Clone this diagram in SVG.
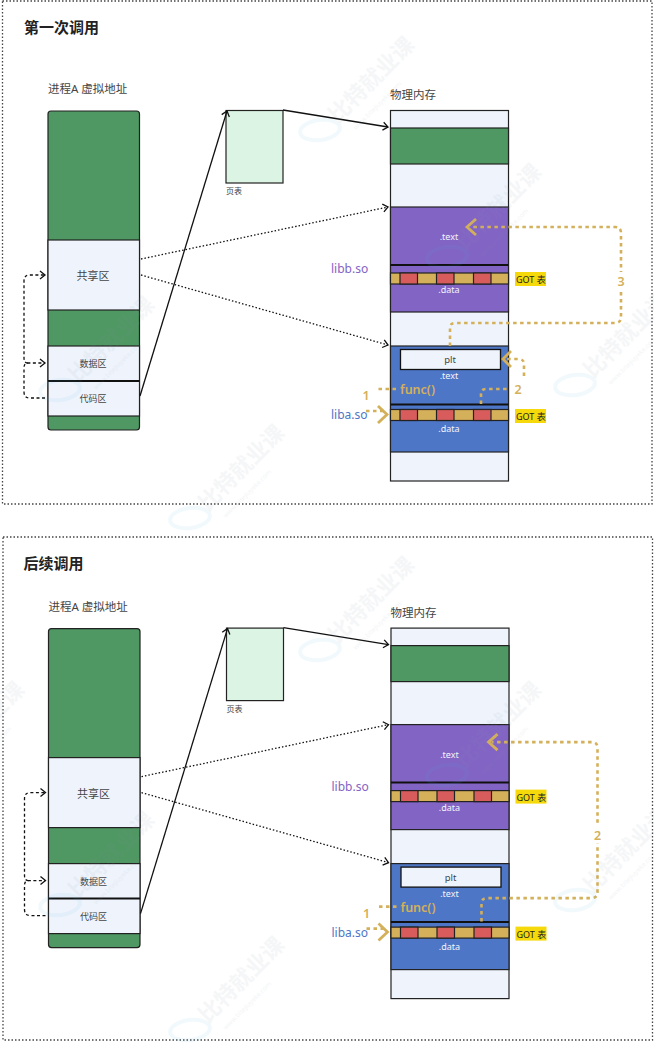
<svg xmlns="http://www.w3.org/2000/svg" xmlns:xlink="http://www.w3.org/1999/xlink" width="654" height="1043" viewBox="0 0 654 1043">
<style>
text{font-family:"Noto Sans","Noto Sans CJK SC",sans-serif;fill:#444}
.frame{fill:none;stroke:#444;stroke-width:1.3;stroke-dasharray:1.5 2}
.title{font-size:15px;font-weight:700;fill:#222}
.cap{font-size:11.5px}
.s{stroke:#222;stroke-width:1.2}
.green{fill:#4f9763}.light{fill:#eff4fc}.purple{fill:#8264c5}.blue{fill:#4e76c6}.gold{fill:#d4b05a}.red{fill:#d85c5c}
.mid{text-anchor:middle}
.w{fill:#f4f4fb;font-size:9px;text-anchor:middle}
.conn{fill:none;stroke:#111;stroke-width:1.3}
.dot{stroke-dasharray:1.5 2}
.dash{stroke-dasharray:3 2.5}
.g{fill:none;stroke:#d4b05a;stroke-width:2.6;stroke-dasharray:3.5 3.5}
.gh{fill:none;stroke:#d4b05a;stroke-width:2.8}
.gt{fill:#d4b05a;font-size:12.5px;text-anchor:middle;font-weight:600}
.got{font-size:9px;fill:#222}
.bar{stroke:#111;stroke-width:2;fill:none}
.wm{fill:#8a9aa8;font-size:22px;font-weight:700;opacity:.08}
.wu{fill:#8a9aa8;font-size:6.5px;opacity:.1}
.we{fill:none;stroke:#4fb4e6;stroke-width:4;opacity:.08}
</style>
<defs>
<marker id="arrow" markerWidth="9" markerHeight="10" refX="7.500" refY="5" orient="auto" markerUnits="userSpaceOnUse"><path d="M2.500 1L7.500 5L2.500 9" fill="none" stroke="#111" stroke-width="1.3"/></marker>
<g id="gotrow">
<rect class="s" x="0" y="0" width="118" height="11" fill="#d4b05a"/>
<rect class="red s" x="9.5" y="0" width="17.5" height="11"/>
<rect class="red s" x="46" y="0" width="17.5" height="11"/>
<rect class="red s" x="83" y="0" width="17.5" height="11"/>
</g>
<g id="wmark">
<ellipse class="we" cx="0" cy="0" rx="20" ry="10" transform="rotate(-8)"/>
<text class="wm" transform="translate(18,-6) rotate(-45)">比特就业课</text>
<text class="wu" transform="translate(36,0) rotate(-45)">www.bitejiuyeke.com</text>
</g>
</defs>

<rect class="frame" x="2.5" y="1" width="649.5" height="503"/>
<rect class="frame" x="3" y="537" width="649.5" height="503"/>

<g id="panel-1">
<text class="title" x="24" y="33">第一次调用</text>
<g id="virt-1">
<text class="cap" x="48" y="93">进程A 虚拟地址</text>
<rect class="green s" x="48" y="111" width="91.5" height="319" rx="3"/>
<rect class="light s" x="48" y="240" width="91.5" height="70"/>
<rect class="light s" x="48" y="346" width="91.5" height="70"/>
<path d="M48 381H139.5" class="bar"/>
<text class="mid" x="93" y="280" font-size="11">共享区</text>
<text class="mid" x="93" y="367" font-size="9">数据区</text>
<text class="mid" x="93" y="402" font-size="9">代码区</text>
</g>
<g id="pagetable-1">
<rect x="226" y="110.5" width="57" height="72.5" fill="#dcf4e4" stroke="#222" stroke-width="1.2"/>
<text x="226" y="194" font-size="8">页表</text>
</g>
<g id="phys-1">
<text class="cap" x="390" y="99" font-size="11">物理内存</text>
<rect class="light s" x="390.5" y="110.5" width="118" height="370.5"/>
<rect class="green s" x="390.5" y="128" width="118" height="36"/>
<rect class="purple s" x="390.5" y="207" width="118" height="105"/>
<rect class="blue s" x="390.5" y="346" width="118" height="106"/>
<path class="bar" d="M390.5 265H508.5M390.5 404.5H508.5"/>
<use href="#gotrow" x="390.5" y="273"/>
<use href="#gotrow" x="390.5" y="409.5"/>
<rect class="light" x="400.5" y="349.5" width="100" height="20" stroke="#111" stroke-width="1.3"/>
<text class="mid" x="450" y="363" font-size="9.5">plt</text>
<text class="w" x="449" y="240">.text</text>
<text class="w" x="449" y="293">.data</text>
<text class="w" x="449" y="379">.text</text>
<text class="w" x="449" y="432">.data</text>
<text x="331" y="273" font-size="12" style="fill:#8264c5">libb.so</text>
<text x="331" y="419" font-size="12" style="fill:#4e76c6">liba.so</text>
<rect x="515" y="272" width="31" height="14" fill="#f5d90a"/>
<rect x="515" y="409" width="31" height="14" fill="#f5d90a"/>
<text class="got" x="516" y="283">GOT 表</text>
<text class="got" x="516" y="420">GOT 表</text>
<text x="400" y="394" font-size="12.5" font-weight="600" style="fill:#d4b05a">func()</text>
</g>
<g id="connectors-1">
<path class="conn dash" d="M45 398H30Q24 398 24 392V368Q24 363 28 363H45" marker-end="url(#arrow)"/>
<path class="conn dash" d="M28 363Q24 363 24 358V281Q24 275 30 275H45" marker-end="url(#arrow)"/>
<path class="conn dot" d="M141 259L388 207" marker-end="url(#arrow)"/>
<path class="conn dot" d="M141 275L388 345" marker-end="url(#arrow)"/>
<path class="conn" d="M140 396L227 111" marker-end="url(#arrow)"/>
<path class="conn" d="M283 110L388 127" marker-end="url(#arrow)"/>
<path class="g" d="M450 346V328Q450 323 455 323H615Q621 323 621 317V233Q621 227 615 227H470"/>
<path class="gh" d="M476 219L467 227L476 235"/>
<path class="g" d="M481 404V394Q481 389 486 389H508"/>
<path class="g" d="M524 376V364Q524 359 518 359H506"/>
<path class="gh" d="M511 351L503 359L511 367"/>
<path class="g" d="M396 389H377"/>
<path class="g" d="M366 411H384"/>
<path class="gh" d="M378 406L387 414.500L378 423"/>
<rect x="615" y="272" width="12" height="18" fill="#fff"/>
<text class="gt" x="621" y="286">3</text>
<text class="gt" x="518" y="394">2</text>
<text class="gt" x="366" y="400">1</text>
</g>
</g>

<g id="panel-2" transform="translate(0.5,517.6)">
<text class="title" x="23" y="51">后续调用</text>
<g id="virt-2">
<text class="cap" x="48" y="93">进程A 虚拟地址</text>
<rect class="green s" x="48" y="111" width="91.5" height="319" rx="3"/>
<rect class="light s" x="48" y="240" width="91.5" height="70"/>
<rect class="light s" x="48" y="346" width="91.5" height="70"/>
<path d="M48 381H139.5" class="bar"/>
<text class="mid" x="93" y="280" font-size="11">共享区</text>
<text class="mid" x="93" y="367" font-size="9">数据区</text>
<text class="mid" x="93" y="402" font-size="9">代码区</text>
</g>
<g id="pagetable-2">
<rect x="226" y="110.5" width="57" height="72.5" fill="#dcf4e4" stroke="#222" stroke-width="1.2"/>
<text x="226" y="194" font-size="8">页表</text>
</g>
<g id="phys-2">
<text class="cap" x="390" y="99" font-size="11">物理内存</text>
<rect class="light s" x="390.5" y="110.5" width="118" height="370.5"/>
<rect class="green s" x="390.5" y="128" width="118" height="36"/>
<rect class="purple s" x="390.5" y="207" width="118" height="105"/>
<rect class="blue s" x="390.5" y="346" width="118" height="106"/>
<path class="bar" d="M390.5 265H508.5M390.5 404.5H508.5"/>
<use href="#gotrow" x="390.5" y="273"/>
<use href="#gotrow" x="390.5" y="409.5"/>
<rect class="light" x="400.5" y="349.5" width="100" height="20" stroke="#111" stroke-width="1.3"/>
<text class="mid" x="450" y="363" font-size="9.5">plt</text>
<text class="w" x="449" y="240">.text</text>
<text class="w" x="449" y="293">.data</text>
<text class="w" x="449" y="379">.text</text>
<text class="w" x="449" y="432">.data</text>
<text x="331" y="273" font-size="12" style="fill:#8264c5">libb.so</text>
<text x="331" y="419" font-size="12" style="fill:#4e76c6">liba.so</text>
<rect x="515" y="272" width="31" height="14" fill="#f5d90a"/>
<rect x="515" y="409" width="31" height="14" fill="#f5d90a"/>
<text class="got" x="516" y="283">GOT 表</text>
<text class="got" x="516" y="420">GOT 表</text>
<text x="400" y="394" font-size="12.5" font-weight="600" style="fill:#d4b05a">func()</text>
</g>
<g id="connectors-2">
<path class="conn dash" d="M45 398H30Q24 398 24 392V368Q24 363 28 363H45" marker-end="url(#arrow)"/>
<path class="conn dash" d="M28 363Q24 363 24 358V281Q24 275 30 275H45" marker-end="url(#arrow)"/>
<path class="conn dot" d="M141 259L388 207" marker-end="url(#arrow)"/>
<path class="conn dot" d="M141 275L388 345" marker-end="url(#arrow)"/>
<path class="conn" d="M140 396L227 111" marker-end="url(#arrow)"/>
<path class="conn" d="M283 110L388 127" marker-end="url(#arrow)"/>
<path class="g" d="M481 404V386Q481 380.500 487 380.500H591Q597 380.500 597 374.500V230.500Q597 224.500 591 224.500H491"/>
<path class="gh" d="M497 216.500L488 224.500L497 232.500"/>
<path class="g" d="M396 389H377"/>
<path class="g" d="M366 411H384"/>
<path class="gh" d="M378 406L387 414.500L378 423"/>
<rect x="591" y="307" width="12" height="19" fill="#fff"/>
<text class="gt" x="597" y="322">2</text>
<text class="gt" x="366" y="400">1</text>
</g>
</g>

<g id="watermarks">
<use href="#wmark" x="320" y="130"/>
<use href="#wmark" x="447" y="257"/>
<use href="#wmark" x="575" y="385"/>
<use href="#wmark" x="60" y="390"/>
<use href="#wmark" x="190" y="518"/>
<use href="#wmark" x="320" y="650"/>
<use href="#wmark" x="447" y="775"/>
<use href="#wmark" x="575" y="900"/>
<use href="#wmark" x="60" y="905"/>
<use href="#wmark" x="190" y="1030"/>
<use href="#wmark" x="-70" y="775"/>
</g>
</svg>
